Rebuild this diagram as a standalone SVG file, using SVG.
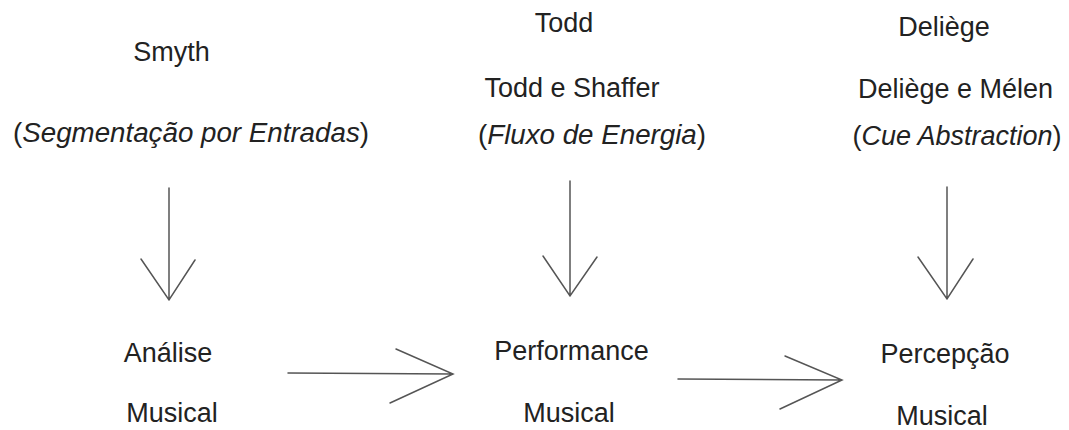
<svg xmlns="http://www.w3.org/2000/svg" width="1069" height="430" viewBox="0 0 1069 430">
<style>
text{font-family:"Liberation Sans",Arial,sans-serif;font-size:27px;fill:#222;text-anchor:middle}
.i{font-style:italic}
.c{fill:none;stroke:#555;stroke-width:1.5;stroke-linecap:round;stroke-linejoin:miter}
</style>
<rect width="1069" height="430" fill="#fff"/>
<g id="smyth">
<text x="171.5" y="61">Smyth</text>
<text x="191" y="142" textLength="356" lengthAdjust="spacingAndGlyphs">(<tspan class="i">Segmentação por Entradas</tspan>)</text>
</g>
<g id="todd">
<text x="564" y="32">Todd</text>
<text x="572" y="97">Todd e Shaffer</text>
<text x="592" y="144" textLength="228" lengthAdjust="spacingAndGlyphs">(<tspan class="i">Fluxo de Energia</tspan>)</text>
</g>
<g id="deliege">
<text x="944" y="36">Deliège</text>
<text x="955.5" y="98">Deliège e Mélen</text>
<text x="957" y="145">(<tspan class="i">Cue Abstraction</tspan>)</text>
</g>
<g id="analise">
<text x="168" y="362">Análise</text>
<text x="172" y="422">Musical</text>
</g>
<g id="performance">
<text x="571.5" y="360">Performance</text>
<text x="569" y="422">Musical</text>
</g>
<g id="percepcao">
<text x="945" y="363">Percepção</text>
<text x="942" y="425">Musical</text>
</g>
<g id="connectors">
<path class="c" d="M169,188 V300 M141,259 L169,300 L195,260"/>
<path class="c" d="M570,181 V296 M543,256 L570,296 L597,257"/>
<path class="c" d="M947,187 V299 M918,257 L947,299 L973,259"/>
<path class="c" d="M288,373 L453,374 M396,349 L453,374 L390,403"/>
<path class="c" d="M678,379 L842,380 M785,356 L842,380 L780,409"/>
</g>
</svg>
